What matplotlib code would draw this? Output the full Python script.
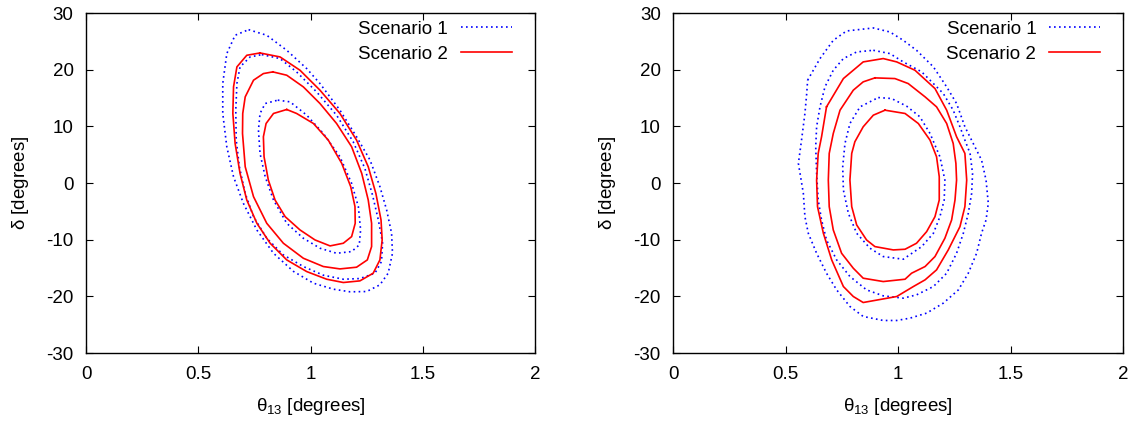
'''Two-panel contour comparison of Scenario 1 and Scenario 2 in the theta13 - delta plane'''
import numpy as np
import matplotlib
matplotlib.use('Agg')
import matplotlib.pyplot as plt

plt.rcParams['font.family'] = ['Liberation Sans', 'DejaVu Sans']
plt.rcParams['font.size'] = 13.5

# ---- Left panel contours (theta13 [deg], delta [deg]) ----
# Scenario 1 (blue dotted)
L1_out_x = [0.724, 0.805, 0.894, 0.983, 1.042, 1.131, 1.205, 1.265, 1.309, 1.339, 1.361, 1.365, 1.346, 1.309,
            1.250, 1.176, 1.102, 1.013, 0.924, 0.835, 0.761, 0.701, 0.657, 0.627, 0.609, 0.609, 0.627, 0.664]
L1_out_y = [27.06, 26.07, 23.42, 20.19, 17.55, 12.85, 8.16, 4.05, -0.65, -4.76, -8.87, -12.4, -15.9, -17.97,
            -19.15, -19.2, -18.74, -17.68, -15.6, -12.4, -8.3, -3.6, 1.1, 6.4, 12.27, 17.55, 22.84, 26.07]
L1_mid_x = [0.783, 0.864, 0.938, 1.027, 1.116, 1.190, 1.242, 1.276, 1.302, 1.321, 1.316, 1.287, 1.220, 1.146,
            1.057, 0.968, 0.879, 0.805, 0.746, 0.709, 0.683, 0.669, 0.667, 0.672, 0.686, 0.731]
L1_mid_y = [22.66, 21.96, 19.6, 16.08, 11.97, 7.28, 2.58, -2.12, -6.52, -10.63, -13.86, -15.92, -16.86, -16.98,
            -16.27, -14.74, -12.69, -9.75, -5.94, -1.83, 2.87, 7.57, 12.85, 17.55, 20.49, 22.25]
L1_in_x = [0.854, 0.909, 0.983, 1.057, 1.131, 1.183, 1.213, 1.223, 1.217, 1.183, 1.116, 1.042, 0.968, 0.894,
           0.835, 0.798, 0.775, 0.768, 0.775, 0.798]
L1_in_y = [14.62, 14.32, 11.97, 8.74, 4.63, -0.06, -4.17, -8.28, -10.93, -12.1, -12.4, -11.51, -9.75, -7.11,
           -3.0, 1.11, 5.22, 9.33, 12.27, 14.03]
# Scenario 2 (red solid)
L2_out_x = [0.775, 0.864, 0.953, 1.042, 1.131, 1.205, 1.257, 1.291, 1.314, 1.319, 1.309, 1.279, 1.220, 1.146,
            1.072, 0.983, 0.894, 0.820, 0.761, 0.716, 0.686, 0.664, 0.654, 0.657, 0.672, 0.716]
L2_out_y = [22.95, 22.25, 19.9, 16.38, 12.27, 7.57, 2.87, -1.83, -6.52, -10.05, -13.57, -15.92, -17.27, -17.56,
            -16.98, -15.63, -13.57, -10.63, -7.11, -3.0, 1.7, 6.98, 12.27, 16.96, 20.49, 22.54]
L2_mid_x = [0.832, 0.894, 0.968, 1.042, 1.116, 1.183, 1.228, 1.257, 1.272, 1.272, 1.253, 1.205, 1.131, 1.057,
            0.968, 0.879, 0.805, 0.746, 0.709, 0.697, 0.698, 0.709, 0.746, 0.790]
L2_mid_y = [19.61, 19.02, 16.96, 14.03, 10.5, 6.4, 1.7, -3.0, -7.11, -11.22, -13.57, -14.86, -15.16, -14.74,
            -13.28, -10.63, -7.11, -2.41, 2.87, 8.74, 12.27, 15.2, 18.14, 19.31]
L2_in_x = [0.894, 0.938, 1.013, 1.079, 1.139, 1.179, 1.198, 1.199, 1.183, 1.146, 1.087, 1.020, 0.953, 0.887,
           0.842, 0.812, 0.793, 0.790, 0.802, 0.835]
L2_in_y = [12.97, 12.27, 10.5, 7.57, 3.46, -0.65, -4.17, -7.11, -9.46, -10.63, -11.1, -10.05, -8.28, -5.94,
           -3.0, 0.52, 4.63, 8.16, 10.5, 12.27]

# ---- Right panel contours ----
# Scenario 1 (blue dotted)
R1_out_x = [0.597, 0.652, 0.711, 0.770, 0.889, 0.963, 1.022, 1.081, 1.156, 1.215, 1.259, 1.296, 1.333, 1.370,
            1.390, 1.400, 1.390, 1.370, 1.348, 1.311, 1.267, 1.200, 1.126, 1.052, 0.993, 0.933, 0.844, 0.785,
            0.726, 0.681, 0.637, 0.600, 0.585, 0.578, 0.556, 0.570, 0.585, 0.593]
R1_out_y = [18.14, 21.96, 25.18, 26.83, 27.36, 26.65, 25.18, 23.42, 20.49, 16.96, 14.03, 9.92, 6.98, 4.05,
            0.52, -3.59, -6.52, -8.87, -12.4, -15.92, -18.86, -21.2, -22.96, -23.85, -24.26, -24.26, -23.55,
            -21.79, -18.86, -15.92, -12.4, -8.87, -5.94, -1.83, 3.46, 7.57, 12.27, 15.79]
R1_mid_x = [0.889, 0.963, 1.022, 1.104, 1.156, 1.200, 1.244, 1.274, 1.296, 1.319, 1.330, 1.326, 1.311, 1.289,
            1.259, 1.215, 1.156, 1.081, 1.022, 0.933, 0.859, 0.785, 0.726, 0.681, 0.659, 0.644, 0.637, 0.633,
            0.637, 0.652, 0.674, 0.711, 0.756, 0.815]
R1_mid_y = [23.42, 22.84, 21.37, 19.61, 17.55, 15.79, 12.85, 9.92, 7.57, 5.22, 1.7, -1.83, -5.35, -8.87,
            -12.4, -15.92, -18.27, -19.74, -20.32, -19.91, -18.86, -16.5, -13.57, -10.05, -6.52, -3.0, 1.7, 6.4,
            9.92, 13.44, 16.96, 19.9, 21.96, 23.13]
R1_in_x = [0.911, 0.970, 1.037, 1.096, 1.141, 1.185, 1.207, 1.204, 1.185, 1.156, 1.104, 1.022, 0.933, 0.874,
           0.815, 0.778, 0.756, 0.753, 0.763, 0.785, 0.830]
R1_in_y = [15.08, 14.91, 13.56, 11.68, 8.74, 4.63, 0.52, -3.0, -5.94, -8.87, -11.22, -13.45, -12.98, -11.51,
           -8.87, -5.35, -1.24, 2.87, 6.98, 10.5, 13.44]
# Scenario 2 (red solid)
R2_out_x = [0.681, 0.756, 0.844, 0.933, 0.993, 1.074, 1.163, 1.215, 1.259, 1.296, 1.304, 1.296, 1.274, 1.222,
            1.170, 1.119, 1.067, 0.993, 0.844, 0.800, 0.756, 0.704, 0.667, 0.641, 0.637, 0.644, 0.659]
R2_out_y = [13.44, 18.43, 21.37, 21.96, 21.37, 19.9, 16.67, 12.85, 8.16, 5.22, 0.52, -4.17, -7.7, -11.81,
            -15.33, -17.09, -18.27, -20.03, -21.09, -20.03, -18.27, -13.57, -8.87, -4.17, 0.52, 5.22, 8.16]
R2_mid_x = [0.896, 0.985, 1.044, 1.119, 1.170, 1.215, 1.244, 1.256, 1.259, 1.252, 1.237, 1.207, 1.163, 1.119,
            1.059, 1.030, 0.933, 0.844, 0.800, 0.748, 0.711, 0.693, 0.689, 0.693, 0.711, 0.741, 0.800, 0.844]
R2_mid_y = [18.55, 18.43, 17.55, 15.2, 13.44, 10.5, 6.98, 3.46, 0.52, -3.0, -6.52, -9.75, -12.98, -14.74,
            -15.92, -16.98, -17.39, -16.8, -15.04, -12.4, -8.28, -4.17, 0.52, 5.22, 8.74, 12.85, 16.38, 17.85]
R2_in_x = [0.941, 1.030, 1.089, 1.141, 1.170, 1.182, 1.182, 1.163, 1.126, 1.081, 1.030, 0.978, 0.896, 0.859,
           0.815, 0.793, 0.785, 0.793, 0.807, 0.844, 0.889]
R2_in_y = [12.85, 12.27, 10.5, 7.57, 4.63, 1.11, -3.0, -5.94, -8.58, -10.63, -11.69, -11.81, -11.22, -10.05,
           -7.4, -4.17, 0.52, 5.22, 7.28, 9.92, 11.97]

x_ticks = [0, 0.5, 1, 1.5, 2]
x_tick_labels = ['0', '0.5', '1', '1.5', '2']
y_ticks = [-30, -20, -10, 0, 10, 20, 30]
y_tick_labels = ['-30', '-20', '-10', '0', '10', '20', '30']

panels = [
    ([(L1_out_x, L1_out_y), (L1_mid_x, L1_mid_y), (L1_in_x, L1_in_y)],
     [(L2_out_x, L2_out_y), (L2_mid_x, L2_mid_y), (L2_in_x, L2_in_y)]),
    ([(R1_out_x, R1_out_y), (R1_mid_x, R1_mid_y), (R1_in_x, R1_in_y)],
     [(R2_out_x, R2_out_y), (R2_mid_x, R2_mid_y), (R2_in_x, R2_in_y)]),
]


def closed(x, y):
    # close the contour loop
    return np.append(x, x[0]), np.append(y, y[0])


fig = plt.figure(figsize=(11.35, 4.25), dpi=100)
axes = [fig.add_axes([0.0758, 0.1694, 0.3956, 0.80]),
        fig.add_axes([0.5932, 0.1694, 0.3965, 0.80])]

for ax, (s1, s2) in zip(axes, panels):
    for i, (cx, cy) in enumerate(s1):
        xx, yy = closed(cx, cy)
        ax.plot(xx, yy, color='#0000ff', linestyle=(0, (1, 2)), linewidth=1.2,
                label='Scenario 1' if i == 0 else None)
    for i, (cx, cy) in enumerate(s2):
        xx, yy = closed(cx, cy)
        ax.plot(xx, yy, color='#ff0000', linestyle='-', linewidth=1.2,
                label='Scenario 2' if i == 0 else None)

    ax.set_xlim(0, 2)
    ax.set_ylim(-30, 30)
    ax.set_xticks(x_ticks)
    ax.set_xticklabels(x_tick_labels)
    ax.set_yticks(y_ticks)
    ax.set_yticklabels(y_tick_labels)
    ax.tick_params(direction='in', length=5, width=0.8, top=True, right=True, pad=9)
    for sp in ax.spines.values():
        sp.set_linewidth(1.0)
    ax.set_xlabel(r'$\mathregular{\theta_{13}}$ [degrees]', labelpad=10)
    ax.set_ylabel(r'$\mathregular{\delta}$ [degrees]', labelpad=11)
    ax.legend(loc='upper right', frameon=False, markerfirst=False, handlelength=2.7,
              handletextpad=0.7, labelspacing=0.42, borderaxespad=0.2, borderpad=0.2,
              bbox_to_anchor=(0.965, 1.0))

fig.savefig('out.png', dpi=100)
